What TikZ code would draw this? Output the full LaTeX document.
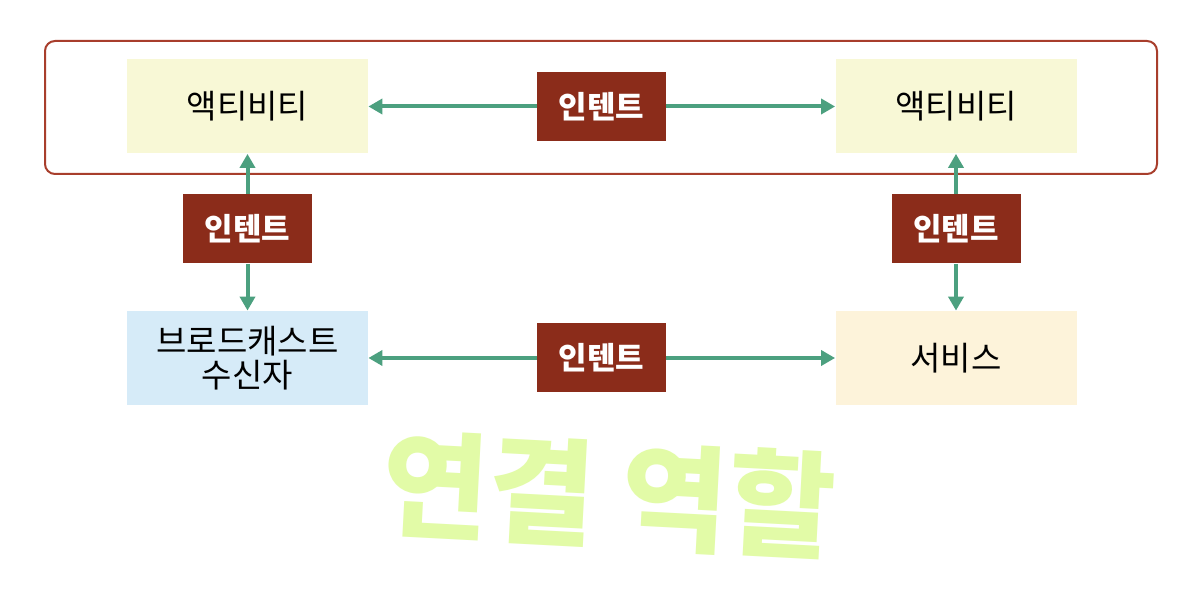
\documentclass[tikz,border=0pt]{standalone}
\usepackage{fontspec}
\setmainfont{Noto Sans CJK KR}
\usetikzlibrary{arrows.meta, positioning, calc}
\definecolor{frameRed}{RGB}{168,62,44}
\definecolor{intentRed}{RGB}{139,44,26}
\definecolor{arrowGreen}{RGB}{76,160,127}
\definecolor{activityFill}{RGB}{248,248,214}
\definecolor{receiverFill}{RGB}{214,235,248}
\definecolor{serviceFill}{RGB}{253,243,218}
\definecolor{scribble}{RGB}{214,250,130}

\begin{document}
\begin{tikzpicture}[
  x=0.5pt, y=-0.5pt,
  comp/.style={minimum width=120.5pt, minimum height=47pt, inner sep=0pt, align=center, font=\fontsize{16.5}{17}\selectfont, text=black},
  intent/.style={fill=intentRed, text=white, minimum width=64.5pt, minimum height=34.5pt, inner sep=0pt, font=\bfseries\fontsize{15.5}{16}\selectfont},
  arr/.style={-{Triangle[length=7pt, width=7.5pt]}, line width=2pt, draw=arrowGreen}
]
\useasboundingbox (0,0) rectangle (1196,592);
\fill[white] (0,0) rectangle (1196,592);

% app frame
\node[draw=frameRed, line width=1pt, rounded corners=5pt, minimum width=556pt, minimum height=66.5pt] (app) at (601,107.5) {};

% components
\node[comp, fill=activityFill] (act1) at (247.5,106.5) {액티비티};
\node[comp, fill=activityFill] (act2) at (956,106.5) {액티비티};
\node[comp, fill=receiverFill] (recv) at (247.5,358) {브로드캐스트\\수신자};
\node[comp, fill=serviceFill] (svc) at (956,358) {서비스};

% intents
\node[intent] (i1) at (601.5,106.5) {인텐트};
\node[intent] (i2) at (247.5,229) {인텐트};
\node[intent] (i3) at (956,229) {인텐트};
\node[intent] (i4) at (601.5,358) {인텐트};

\foreach \a/\b in {i1/act1,i1/act2,i2/act1,i2/recv,i3/act2,i3/svc,i4/recv,i4/svc}{
  \draw[arr] (\a) -- (\b);
}

% handwritten note
\node[text=scribble, opacity=0.7, font=\bfseries\fontsize{58}{60}\selectfont, rotate=-3] (note) at (609,495) {연결 역할};
\end{tikzpicture}
\end{document}
